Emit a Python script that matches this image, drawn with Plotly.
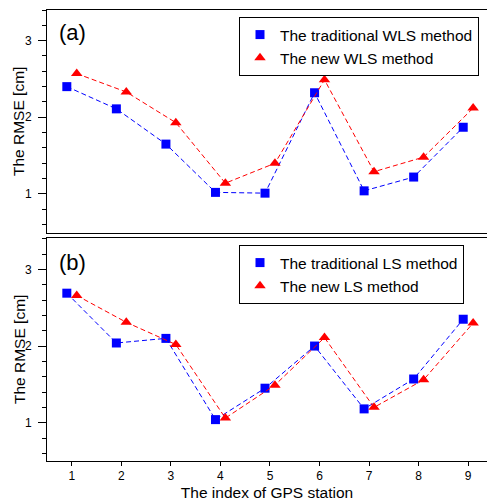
import plotly.graph_objects as go

stations = [1, 2, 3, 4, 5, 6, 7, 8, 9]
offset = 0.1

wls_traditional = [2.40, 2.11, 1.65, 1.02, 1.01, 2.32, 1.04, 1.22, 1.87]
wls_new = [2.57, 2.33, 1.93, 1.14, 1.40, 2.49, 1.29, 1.48, 2.12]

ls_traditional = [2.69, 2.04, 2.10, 1.04, 1.45, 2.00, 1.18, 1.57, 2.35]
ls_new = [2.66, 2.31, 2.02, 1.06, 1.49, 2.11, 1.20, 1.56, 2.30]

x_ticks = [1, 2, 3, 4, 5, 6, 7, 8, 9]
y_ticks = [1, 2, 3]

BLUE = "#0000FF"
RED = "#FF0000"
FONT = "Liberation Sans, Arial, sans-serif"

x_left = [s - offset for s in stations]
x_right = [s + offset for s in stations]

fig = go.Figure()


def add_series(xs, ys, xa, ya, leg, name, color, symbol, size):
    fig.add_trace(go.Scatter(
        x=xs, y=ys, xaxis=xa, yaxis=ya, mode="lines", showlegend=False,
        line=dict(color=color, width=1, dash="5px,3px"), hoverinfo="skip",
    ))
    fig.add_trace(go.Scatter(
        x=xs, y=ys, xaxis=xa, yaxis=ya, legend=leg, mode="markers", name=name,
        marker=dict(symbol=symbol, size=size, color=color),
    ))


add_series(x_left, wls_traditional, "x", "y", "legend", "The traditional WLS method", BLUE, "square", 9)
add_series(x_right, wls_new, "x", "y", "legend", "The new WLS method", RED, "triangle-up", 10)
add_series(x_left, ls_traditional, "x2", "y2", "legend2", "The traditional LS method", BLUE, "square", 9)
add_series(x_right, ls_new, "x2", "y2", "legend2", "The new LS method", RED, "triangle-up", 10)

W, H = 487, 504
ml, mr, mt, mb = 47, 0, 10, 43
pw = W - ml - mr
ph = H - mt - mb
top_dom = [(H - mb - 233) / ph, 1.0]
bot_dom = [0.0, (H - mb - 238) / ph]


def px_x(p):
    return (p - ml) / pw


def px_y(p):
    return (H - mb - p) / ph


xcommon = dict(range=[0.5, 9.38], tickvals=x_ticks, showgrid=False, zeroline=False,
               showline=True, linecolor="black", linewidth=1, mirror=True)
ycommon = dict(tickvals=y_ticks, showgrid=False, zeroline=False,
               showline=True, linecolor="black", linewidth=1,
               ticks="outside", ticklen=8, tickwidth=1, tickcolor="black",
               ticklabelstandoff=4,
               tickfont=dict(family=FONT, size=12, color="black"),
               minor=dict(dtick=0.2, ticks="outside", ticklen=4, tickwidth=1, tickcolor="black"))

legend_common = dict(xanchor="left", yanchor="top", bordercolor="black", borderwidth=1,
                     bgcolor="white", font=dict(family=FONT, size=15.5, color="black"),
                     itemwidth=30)

title_font = dict(family=FONT, size=15.5, color="black")

fig.update_layout(
    width=W, height=H,
    margin=dict(l=ml, r=mr, t=mt, b=mb, pad=0),
    paper_bgcolor="white", plot_bgcolor="white",
    font=dict(family=FONT, color="black"),
    xaxis=dict(**xcommon, domain=[0, 1], anchor="y", ticks="", showticklabels=False),
    yaxis=dict(**ycommon, domain=top_dom, range=[0.49, 3.40], anchor="x"),
    xaxis2=dict(**xcommon, domain=[0, 1], anchor="y2", ticks="outside", ticklen=4,
                tickwidth=1, tickcolor="black",
                tickfont=dict(family=FONT, size=12, color="black"),
                title=dict(text="The index of GPS station", font=title_font, standoff=4)),
    yaxis2=dict(**ycommon, domain=bot_dom, range=[0.50, 3.41], anchor="x2"),
    legend=dict(**legend_common, x=px_x(239), y=px_y(17)),
    legend2=dict(**legend_common, x=px_x(239), y=px_y(245)),
    showlegend=True,
    annotations=[
        dict(text="(a)", xref="paper", yref="paper", x=px_x(57), y=px_y(32),
             xanchor="left", yanchor="middle", showarrow=False,
             font=dict(family=FONT, size=22, color="black")),
        dict(text="(b)", xref="paper", yref="paper", x=px_x(57), y=px_y(262),
             xanchor="left", yanchor="middle", showarrow=False,
             font=dict(family=FONT, size=22, color="black")),
        dict(text="The RMSE [cm]", xref="paper", yref="paper", x=px_x(19), y=px_y(122),
             xanchor="center", yanchor="middle", textangle=-90, showarrow=False,
             font=title_font),
        dict(text="The RMSE [cm]", xref="paper", yref="paper", x=px_x(19), y=px_y(350),
             xanchor="center", yanchor="middle", textangle=-90, showarrow=False,
             font=title_font),
    ],
)

fig.write_html("out.html")
